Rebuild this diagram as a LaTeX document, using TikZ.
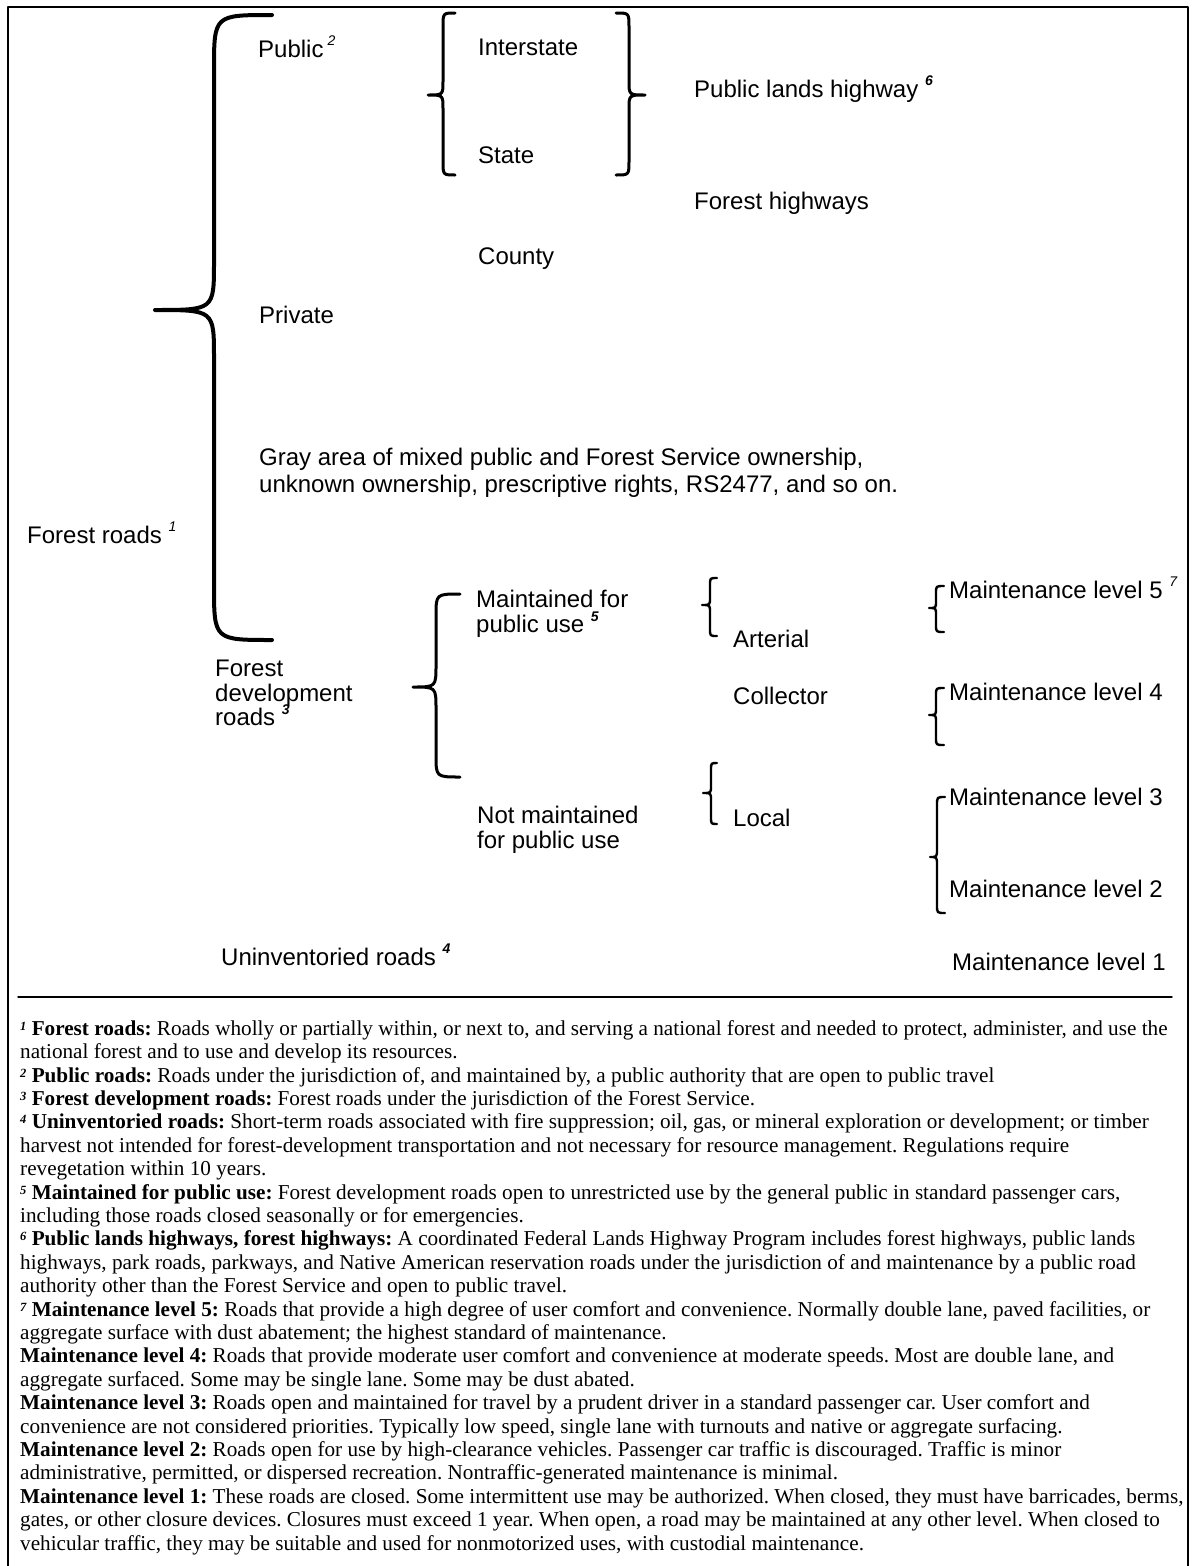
\documentclass[tikz,border=0pt]{standalone}
\usepackage{fontspec}
\setmainfont{Liberation Serif}
\newfontfamily\diagfont{Liberation Sans}
\newcommand\supi[1]{\smash{\raisebox{0.48em}{\fontsize{14}{14}\selectfont\itshape #1}}}
\newcommand\supb[1]{\smash{\raisebox{0.48em}{\fontsize{14}{14}\selectfont\bfseries\itshape #1}}}
\newcommand\fsup[1]{\smash{\raisebox{5pt}{\fontsize{12.5}{12.5}\selectfont\bfseries\itshape #1}}}
\newcommand\tstrut{\rule{0pt}{19pt}}
% #1 end x, #2 stem x, #3 tip x, #4 top y, #5 tip y, #6 bottom y, #7 hook size, #8 tip size, #9 style
\newcommand\mybrace[9]{\draw[#9] (#1,#4) .. controls (#2,#4) .. (#2,{#4+#7}) -- (#2,{#5-#8}) .. controls (#2,#5) .. (#3,#5) .. controls (#2,#5) .. (#2,{#5+#8}) -- (#2,{#6-#7}) .. controls (#2,#6) .. (#1,#6);}
\tikzset{
  lbl/.style={font=\diagfont\fontsize{24}{28}\selectfont, inner sep=0pt, anchor=base west},
  mlbl/.style={inner sep=0pt, anchor=north west, align=left},
  bigbr/.style={line width=4pt},
  medbr/.style={line width=3pt},
  smbr/.style={line width=2.4pt},
  framebox/.style={line width=1.4pt}
}
\begin{document}
\begin{tikzpicture}[x=1pt, y=-1pt, line cap=round, line join=round]
\useasboundingbox (0,0) rectangle (1197,1566);
\fill[white] (0,0) rectangle (1197,1566);
% frame
\draw[framebox] (8,1566) -- (8,7) -- (1188,7) -- (1188,1566);
\draw[framebox] (18,997) -- (1172,997);

% braces
\mybrace{272}{214}{155}{15}{310}{640}{55}{48}{bigbr}
\mybrace{455}{443}{428}{13}{95}{175}{14}{14}{medbr}
\mybrace{616}{629}{645}{13}{95}{175}{14}{14}{medbr}
\mybrace{460}{436}{413}{594}{687}{777}{22}{22}{medbr}
\mybrace{717}{710}{702}{578}{605}{636}{7}{7}{smbr}
\mybrace{717}{711}{703}{763}{793}{824}{7}{7}{smbr}
\mybrace{944}{936}{929}{586}{608}{632}{7}{7}{smbr}
\mybrace{944}{936}{929}{688}{715}{745}{7}{7}{smbr}
\mybrace{945}{937}{930}{797}{857}{913}{8}{8}{smbr}

% labels
\node[lbl] (public) at (258,57) {Public\,\supi{2}};
\node[lbl] (interstate) at (478,55) {Interstate};
\node[lbl] (state) at (478,163) {State};
\node[lbl] (plh) at (694,97) {Public lands highway \supb{6}};
\node[lbl] (fh) at (694,209) {Forest highways};
\node[lbl] (county) at (478,264) {County};
\node[lbl] (private) at (259,323) {Private};
\node[mlbl, font=\diagfont\fontsize{24}{27}\selectfont] (gray) at (259,446.5)
  {\tstrut Gray area of mixed public and Forest Service ownership,\\unknown ownership, prescriptive rights, RS2477, and so on.};
\node[lbl] (forestroads) at (27,543) {Forest roads \supi{1}};
\node[mlbl, font=\diagfont\fontsize{24}{25}\selectfont] (maint) at (476,588.5)
  {\tstrut Maintained for\\public use \supb{5}};
\node[mlbl, font=\diagfont\fontsize{24}{24.5}\selectfont] (fdr) at (215,657.5)
  {\tstrut Forest\\development\\roads \supb{3}};
\node[mlbl, font=\diagfont\fontsize{24}{25}\selectfont] (notmaint) at (477,804.5)
  {\tstrut Not maintained\\for public use};
\node[lbl] (unin) at (221,965) {Uninventoried roads \supb{4}};
\node[lbl] (arterial) at (733,647) {Arterial};
\node[lbl] (collector) at (733,704) {Collector};
\node[lbl] (local) at (733,826) {Local};
\node[lbl] (ml5) at (949,598.5) {Maintenance level 5 \supi{7}};
\node[lbl] (ml4) at (949,700) {Maintenance level 4};
\node[lbl] (ml3) at (949,805.5) {Maintenance level 3};
\node[lbl] (ml2) at (949,897.5) {Maintenance level 2};
\node[lbl] (ml1) at (952,970.5) {Maintenance level 1};

% footnotes
\node[mlbl, font=\fontsize{21.2}{23.4}\selectfont\frenchspacing] (notes) at (20,1018.6) {%
\rule{0pt}{16.4pt}\fsup{1} \textbf{Forest roads:} Roads wholly or partially within, or next to, and serving a national forest and needed to protect, administer, and use the\\
national forest and to use and develop its resources.\\
\fsup{2} \textbf{Public roads:} Roads under the jurisdiction of, and maintained by, a public authority that are open to public travel\\
\fsup{3} \textbf{Forest development roads:} Forest roads under the jurisdiction of the Forest Service.\\
\fsup{4} \textbf{Uninventoried roads:} Short-term roads associated with fire suppression; oil, gas, or mineral exploration or development; or timber\\
harvest not intended for forest-development transportation and not necessary for resource management. Regulations require\\
revegetation within 10 years.\\
\fsup{5} \textbf{Maintained for public use:} Forest development roads open to unrestricted use by the general public in standard passenger cars,\\
including those roads closed seasonally or for emergencies.\\
\fsup{6} \textbf{Public lands highways, forest highways:} A coordinated Federal Lands Highway Program includes forest highways, public lands\\
highways, park roads, parkways, and Native American reservation roads under the jurisdiction of and maintenance by a public road\\
authority other than the Forest Service and open to public travel.\\
\fsup{7} \textbf{Maintenance level 5:} Roads that provide a high degree of user comfort and convenience. Normally double lane, paved facilities, or\\
aggregate surface with dust abatement; the highest standard of maintenance.\\
\textbf{Maintenance level 4:} Roads that provide moderate user comfort and convenience at moderate speeds. Most are double lane, and\\
aggregate surfaced. Some may be single lane. Some may be dust abated.\\
\textbf{Maintenance level 3:} Roads open and maintained for travel by a prudent driver in a standard passenger car. User comfort and\\
convenience are not considered priorities. Typically low speed, single lane with turnouts and native or aggregate surfacing.\\
\textbf{Maintenance level 2:} Roads open for use by high-clearance vehicles. Passenger car traffic is discouraged. Traffic is minor\\
administrative, permitted, or dispersed recreation. Nontraffic-generated maintenance is minimal.\\
\textbf{Maintenance level 1:} These roads are closed. Some intermittent use may be authorized. When closed, they must have barricades, berms,\\
gates, or other closure devices. Closures must exceed 1 year. When open, a road may be maintained at any other level. When closed to\\
vehicular traffic, they may be suitable and used for nonmotorized uses, with custodial maintenance.};
\end{tikzpicture}
\end{document}
